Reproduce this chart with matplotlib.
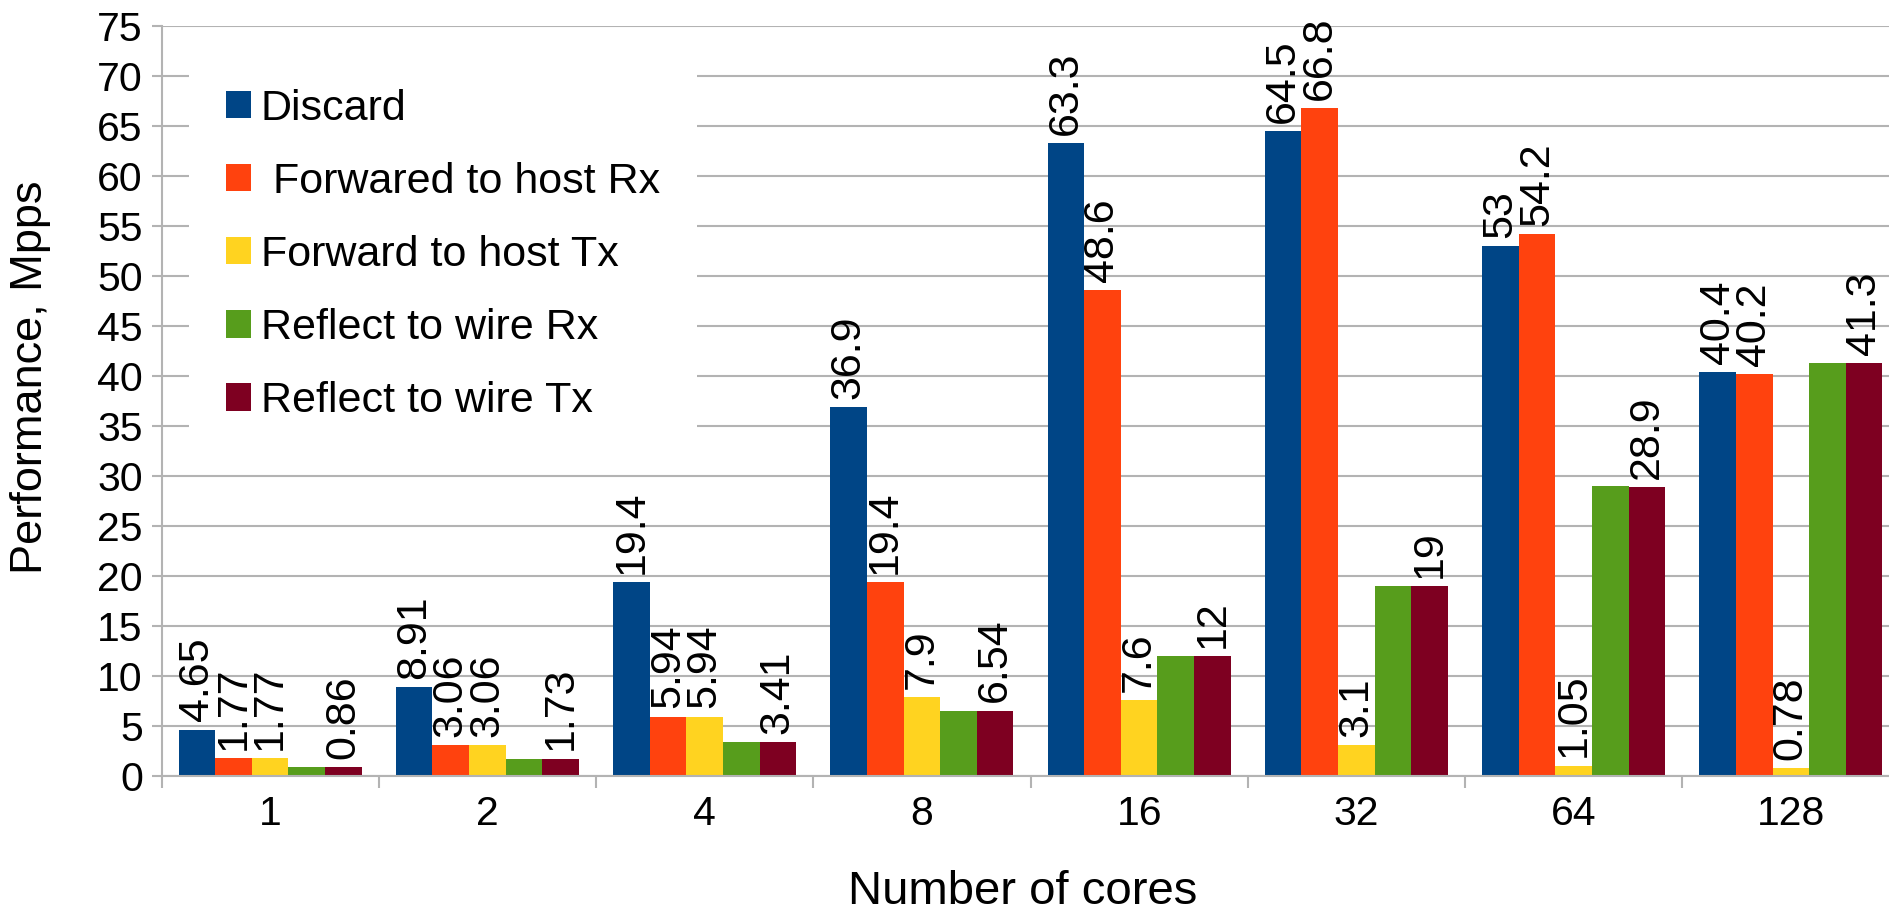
import matplotlib
matplotlib.use("Agg")
import matplotlib.pyplot as plt
import numpy as np

plt.rcParams['font.family'] = ['Liberation Sans', 'DejaVu Sans']

cores = ["1", "2", "4", "8", "16", "32", "64", "128"]
series_names = ["Discard", " Forwared to host Rx", "Forward to host Tx",
                "Reflect to wire Rx", "Reflect to wire Tx"]
discard = [4.65, 8.91, 19.4, 36.9, 63.3, 64.5, 53, 40.4]
fwd_host_rx = [1.77, 3.06, 5.94, 19.4, 48.6, 66.8, 54.2, 40.2]
fwd_host_tx = [1.77, 3.06, 5.94, 7.9, 7.6, 3.1, 1.05, 0.78]
reflect_rx = [0.86, 1.73, 3.41, 6.54, 12, 19, 29.0, 41.3]
reflect_tx = [0.86, 1.73, 3.41, 6.54, 12, 19, 28.9, 41.3]
colors = ["#004586", "#ff420e", "#ffd320", "#579d1c", "#7e0021"]
show_labels = [True, True, True, False, True]

series = [discard, fwd_host_rx, fwd_host_tx, reflect_rx, reflect_tx]

W, H = 1889, 915
fig = plt.figure(figsize=(W / 100, H / 100), dpi=100)
ax = fig.add_axes([161.5 / W, (H - 776) / H, 1738 / W, 750 / H])

x = np.arange(len(cores))
bw = 0.1686
for i, (vals, name, c) in enumerate(zip(series, series_names, colors)):
    bars = ax.bar(x + (i - 2) * bw, vals, bw, color=c, label=name, zorder=2)
    if show_labels[i]:
        ax.bar_label(bars, labels=[f"{v:g}" for v in vals], rotation=90,
                     padding=6, fontsize=31)

ax.set_xlim(-0.5, len(cores) - 0.5)
ax.set_ylim(0, 75)
ax.set_yticks(np.arange(0, 76, 5))
ax.yaxis.grid(True, color="#b3b3b3", linewidth=1.5, zorder=0)
ax.set_axisbelow(True)

ax.set_xticks(x)
ax.set_xticklabels(cores)
ax.set_xticks(np.arange(-0.5, len(cores), 1), minor=True)
ax.tick_params(axis="x", which="major", length=0, pad=14, labelsize=29.5)
ax.tick_params(axis="x", which="minor", length=8.5, width=1.5, color="#b3b3b3")
ax.tick_params(axis="y", length=7, width=1.5, color="#b3b3b3", pad=6.5,
               labelsize=29.5)

for s in ["top", "right"]:
    ax.spines[s].set_visible(False)
for s in ["left", "bottom"]:
    ax.spines[s].set_color("#b3b3b3")
    ax.spines[s].set_linewidth(1.5)

ax.set_xlabel("Number of cores", fontsize=34)
ax.xaxis.set_label_coords(0.4957, -0.1707)
ax.xaxis.label.set_va("baseline")
ax.set_ylabel("Performance, Mpps", fontsize=32.5)
ax.yaxis.set_label_coords(-0.0751, 0.531)
ax.yaxis.label.set_va("center")

leg = ax.legend(loc="upper left", bbox_to_anchor=(189 / W, 1 - 52 / H),
                bbox_transform=fig.transFigure, fontsize=31,
                handlelength=0.6, handleheight=0.6, handletextpad=0.22,
                labelspacing=0.77, borderpad=0.85, borderaxespad=0,
                frameon=True, fancybox=False, framealpha=1)
leg.get_frame().set_edgecolor("none")
leg.get_frame().set_facecolor("white")

fig.savefig("out.png", dpi=100)
